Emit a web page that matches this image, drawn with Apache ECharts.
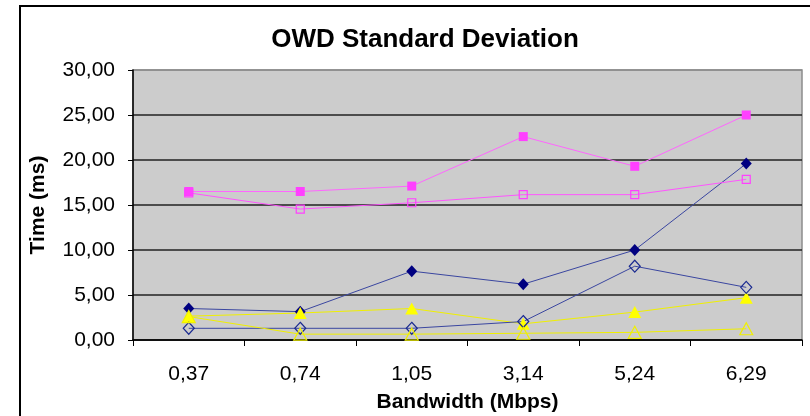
<!DOCTYPE html>
<html>
<head>
<meta charset="utf-8">
<script src="https://cdn.jsdelivr.net/npm/echarts@6/dist/echarts.min.js"></script>
<style>html,body{margin:0;padding:0;background:#fff;overflow:hidden}#c{width:810px;height:416px}</style>
</head>
<body>
<div id="c"></div>
<script>
const categories = ['0,37', '0,74', '1,05', '3,14', '5,24', '6,29'];
const navyFilled = [3.5, 3.15, 7.65, 6.2, 10.0, 19.6];
const pinkFilled = [16.5, 16.5, 17.1, 22.6, 19.3, 25.0];
const yellowFilled = [2.65, 3.0, 3.5, 1.8, 3.1, 4.7];
const navyOpen = [1.3, 1.3, 1.3, 2.05, 8.2, 5.85];
const pinkOpen = [16.35, 14.55, 15.25, 16.15, 16.15, 17.85];
const yellowOpen = [2.6, 0.65, 0.65, 0.75, 0.85, 1.25];
const yTicks = {min: 0, max: 30, interval: 5};

const FONT = '"Liberation Sans", Arial, sans-serif';
const chart = echarts.init(document.getElementById('c'), null, {renderer: 'canvas'});

function mk(name, data, symbol, size, color, lineColor, filled) {
  return {
    name, type: 'line', data, symbol, symbolSize: size, showSymbol: true,
    animation: false,
    lineStyle: {color: lineColor, width: 1},
    itemStyle: filled ? {color: color, borderColor: color, borderWidth: 0}
                      : {color: 'rgba(0,0,0,0)', borderColor: color, borderWidth: 1.2},
    emphasis: {disabled: true}
  };
}

chart.setOption({
  animation: false,
  title: {
    text: 'OWD Standard Deviation', left: 420, top: 22, textAlign: 'center',
    textStyle: {fontFamily: FONT, fontSize: 26, fontWeight: 'bold', color: '#000'}
  },
  graphic: [{
    type: 'rect', shape: {x: 20, y: 6, width: 900, height: 500},
    style: {fill: 'none', stroke: '#000', lineWidth: 2}, z: 100
  }],
  grid: {
    left: 133, right: 8, top: 70, bottom: 76, show: true,
    containLabel: false, outerBoundsMode: 'none',
    backgroundColor: '#CCCCCC', borderColor: '#8c8c8c', borderWidth: 1.5
  },
  xAxis: {
    type: 'category', data: categories, boundaryGap: true,
    name: 'Bandwidth (Mbps)', nameLocation: 'middle', nameGap: 52,
    nameTextStyle: {fontFamily: FONT, fontSize: 21, fontWeight: 'bold', color: '#000'},
    axisLine: {lineStyle: {color: '#000', width: 1.5}},
    axisTick: {show: true, length: 6, lineStyle: {color: '#000', width: 1}},
    axisLabel: {fontFamily: FONT, fontSize: 21, color: '#000', margin: 24},
    splitLine: {show: false}
  },
  yAxis: {
    type: 'value', min: yTicks.min, max: yTicks.max, interval: yTicks.interval,
    name: 'Time (ms)', nameLocation: 'middle', nameGap: 84, nameRotate: 90,
    nameTextStyle: {fontFamily: FONT, fontSize: 21, fontWeight: 'bold', color: '#000'},
    axisLine: {show: true, lineStyle: {color: '#000', width: 1.5}},
    axisTick: {show: true, length: 5, lineStyle: {color: '#000', width: 1}},
    axisLabel: {fontFamily: FONT, fontSize: 21, color: '#000', margin: 18,
      formatter: v => v.toFixed(2).replace('.', ',')},
    splitLine: {show: true, lineStyle: {color: ['#222','#222','#222','#222','#222','#222','#8c8c8c'], width: 1.5}}
  },
  series: [
    mk('s1', navyFilled, 'diamond', [11, 12], '#000080', '#3a46a0', true),
    mk('s2', pinkFilled, 'rect', 9, '#FF40FF', '#FF66FF', true),
    mk('s3', yellowFilled, 'triangle', [13, 12], '#FFFF00', '#F0F000', true),
    mk('s4', navyOpen, 'diamond', [11, 12], '#1a2a90', '#3a46a0', false),
    mk('s5', pinkOpen, 'rect', 8, '#FF40FF', '#FF55FF', false),
    mk('s6', yellowOpen, 'triangle', [13, 12], '#F0F000', '#F0F000', false)
  ]
});
</script>
</body>
</html>
